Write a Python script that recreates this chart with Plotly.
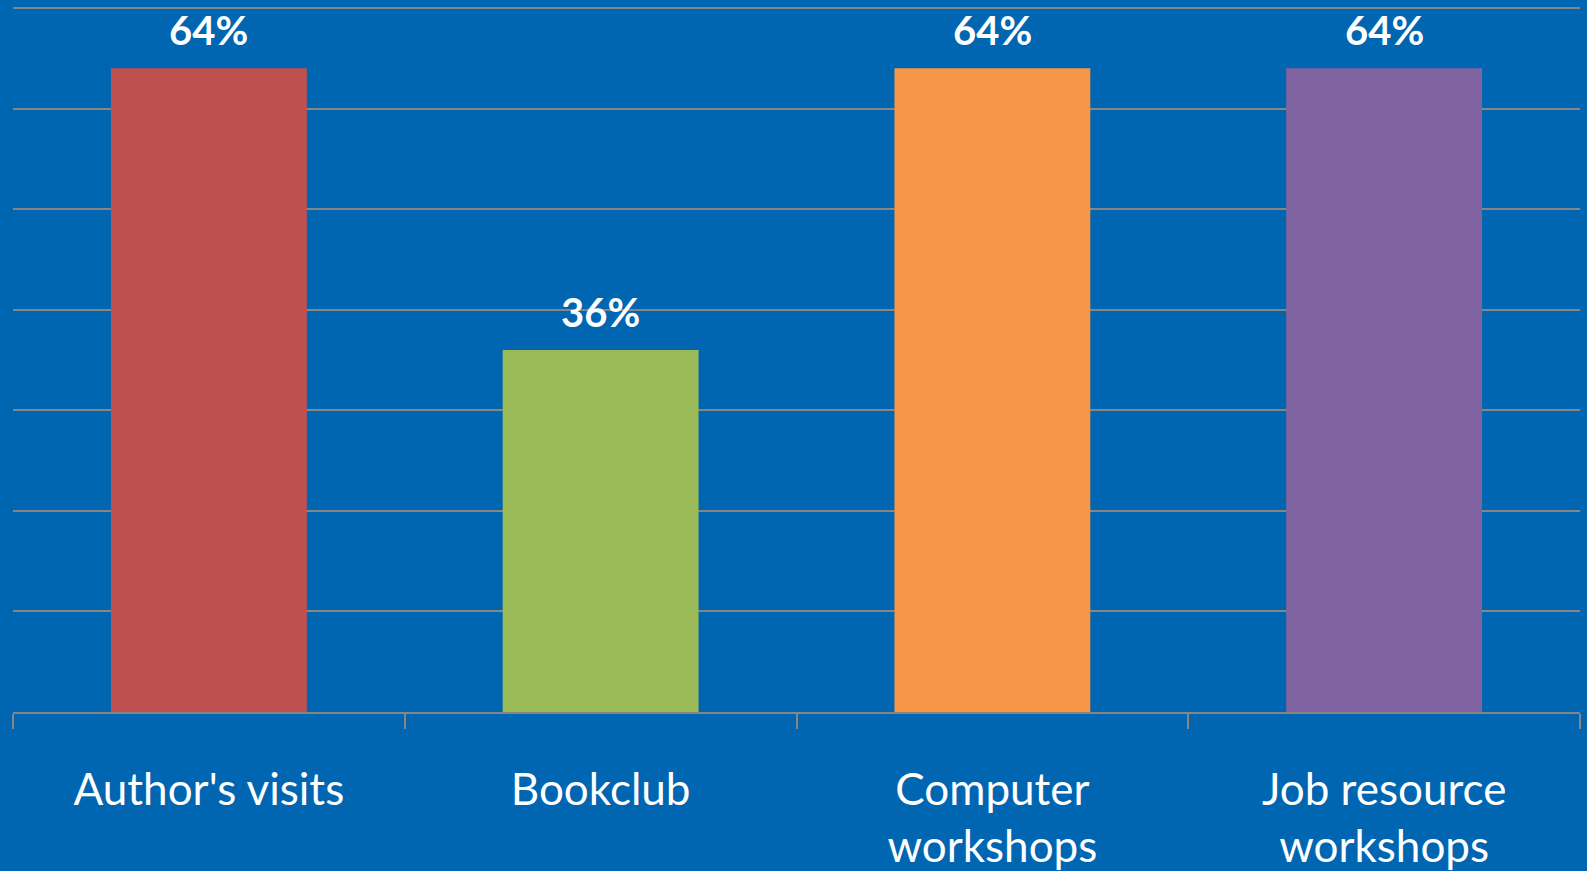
import plotly.graph_objects as go

categories = ["Author's visits", "Bookclub", "Computer<br>workshops", "Job resource<br>workshops"]
values = [64, 36, 64, 64]
labels = ["64%", "36%", "64%", "64%"]
colors = ["#C0504D", "#9BBB59", "#F79646", "#8064A2"]

BG = "#0066B2"
GRID = "#868686"
FONT = "Lato"

fig = go.Figure()
fig.add_trace(go.Bar(
    x=categories, y=values, marker=dict(color=colors, line=dict(width=0)),
    width=0.5, hoverinfo="skip",
))
for c, v, t in zip(categories, values, labels):
    fig.add_annotation(x=c, y=v, text="<b>%s</b>" % t, showarrow=False,
                       yanchor="bottom", yshift=12,
                       font=dict(family=FONT, size=40, color="white"))

fig.update_layout(
    width=1587, height=871,
    margin=dict(l=13, r=7, t=7, b=159),
    paper_bgcolor=BG, plot_bgcolor=BG,
    showlegend=False,
    font=dict(family=FONT, color="white"),
)
fig.update_xaxes(
    type="category", tickson="boundaries", ticks="outside", ticklen=15,
    tickcolor=GRID, tickwidth=2, showline=True, linecolor=GRID, linewidth=2,
    showgrid=False, tickfont=dict(family=FONT, size=44, color="white"),
    ticklabelstandoff=38, automargin=False,
)
fig.update_yaxes(
    range=[0, 70.1], dtick=10, showticklabels=False, showgrid=True,
    gridcolor=GRID, gridwidth=2, zeroline=False, showline=False,
    automargin=False,
)
fig.write_html("out.html", config={"displayModeBar": False},
               post_script="document.body.style.margin='0';document.body.style.background='%s';" % BG)
